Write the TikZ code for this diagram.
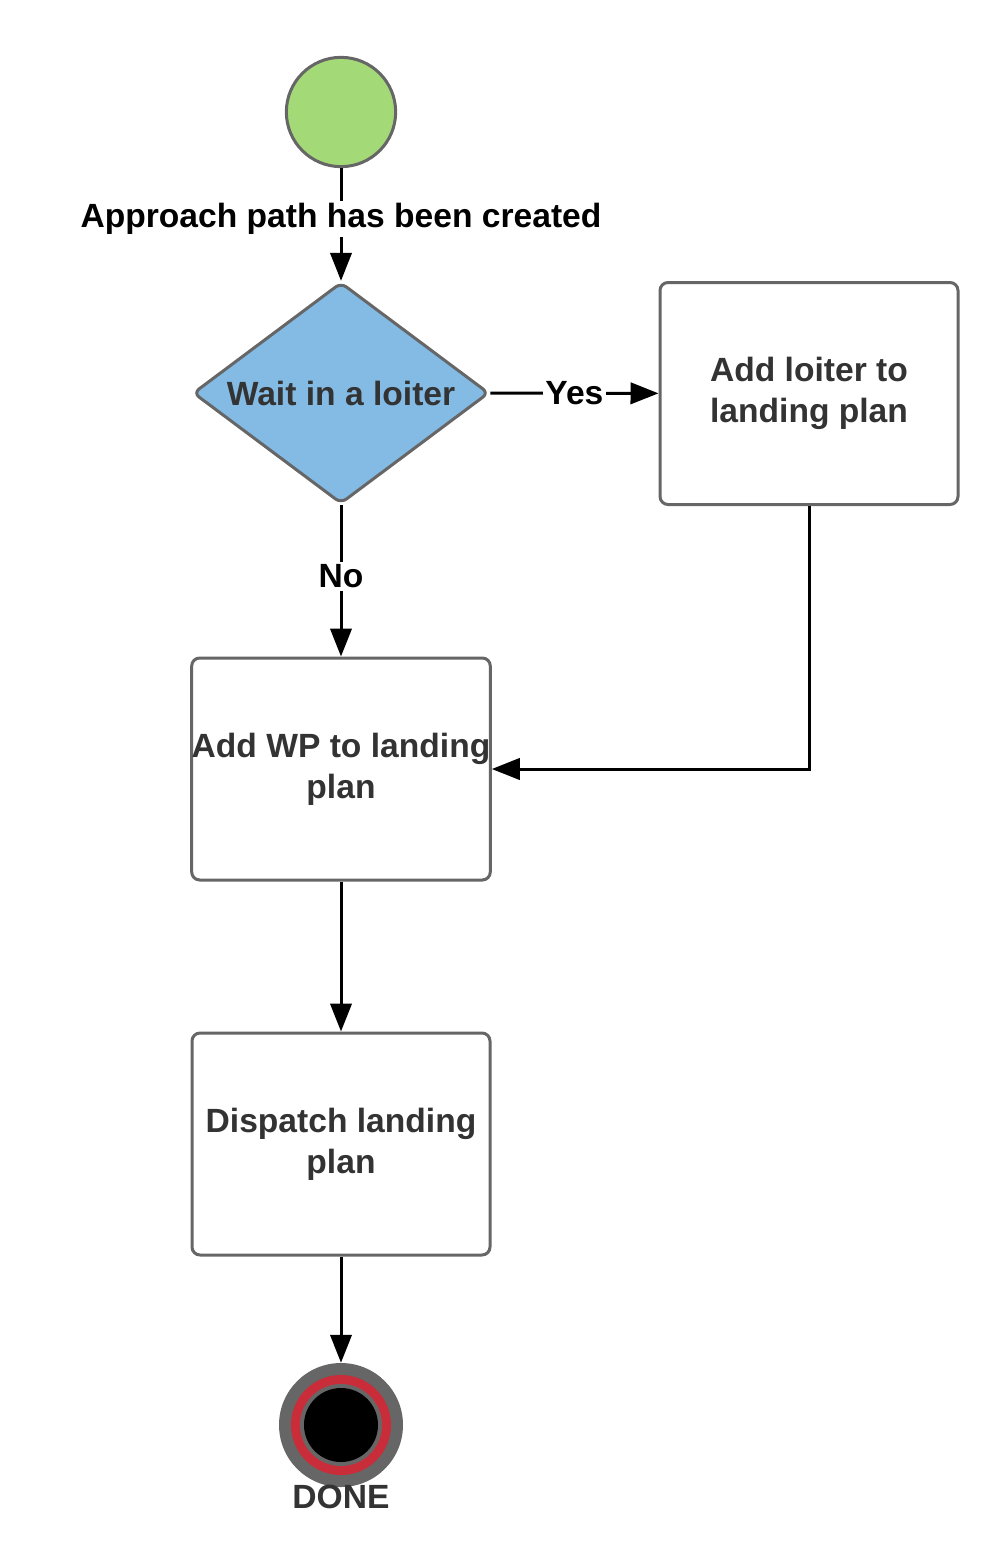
\documentclass[tikz,border=0pt]{standalone}
\usepackage{fontspec}
\setmainfont{Liberation Sans}
\usetikzlibrary{positioning,shapes.geometric,arrows.meta}
\definecolor{lgreen}{HTML}{A3D977}
\definecolor{lblue}{HTML}{83BBE5}
\definecolor{lgray}{HTML}{666666}
\definecolor{ltext}{HTML}{333333}
\definecolor{lred}{HTML}{C92D39}

\begin{document}
\begin{tikzpicture}[x=0.75pt,y=-0.75pt,
	every node/.style={font=\fontsize{25.2}{30.75}\selectfont\bfseries},
	snode/.style={circle,draw=lgray,fill=lgreen,line width=2.25pt,minimum size=82pt,inner sep=0pt},
	dnode/.style={diamond,aspect=1.35,draw=lgray,fill=lblue,line width=2.25pt,rounded corners=5pt,minimum width=222pt,minimum height=166pt,inner sep=0pt,text=ltext},
	bnode/.style={rectangle,draw=lgray,fill=white,line width=2.25pt,rounded corners=6pt,minimum width=223.5pt,minimum height=166.5pt,inner sep=0pt,align=center,text=ltext},
	enode/.style={circle,fill=lgray,minimum size=93pt,inner sep=0pt},
	elabel/.style={fill=white,inner sep=2pt},
	flow/.style={line width=2.25pt,-{Triangle[length=21pt,width=16pt]}}]
	\useasboundingbox (0,0) rectangle (1007,1560);
	\node[snode] (start) at (341,112) {};
	\node[dnode] (wait) at (341,393) {Wait in a loiter};
	\node[bnode] (loiter) at (809,393.5) {Add loiter to\\landing plan};
	\node[bnode] (addwp) at (341,769) {Add WP to landing\\plan};
	\node[bnode] (dispatch) at (341,1144) {Dispatch landing\\plan};
	\node[enode] (done) at (341,1425) {};
	\fill[lred] (done) circle (37.5pt);
	\fill[lgray] (done) circle (30.75pt);
	\fill[black] (done) circle (27.75pt);
	\node[text=ltext] (donetext) at (341,1497) {DONE};
	\draw[flow] (start) -- node[elabel,pos=0.45] {Approach path has been created} (wait);
	\draw[flow] (wait) -- node[elabel] {Yes} (loiter);
	\draw[flow] (wait) -- node[elabel,pos=0.47] {No} (addwp);
	\draw[flow] (loiter.south) |- (addwp.east);
	\draw[flow] (addwp) -- (dispatch);
	\draw[flow] (dispatch) -- (done);
\end{tikzpicture}
\end{document}
